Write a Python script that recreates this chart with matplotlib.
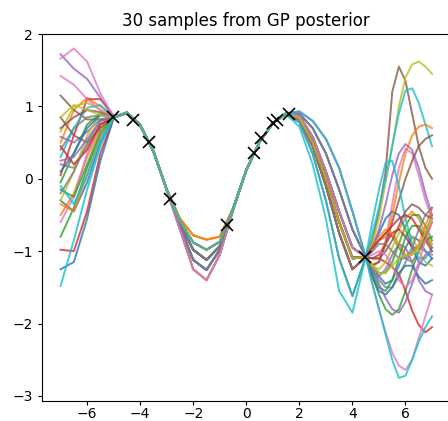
import matplotlib
matplotlib.use("Agg")
import matplotlib.pyplot as plt

title = "30 samples from GP posterior"

x_grid = [-7, -6.5, -6, -5.5, -5, -4.5, -4, -3.5, -3, -2.5, -2, -1.5, -1,
          -0.5, 0, 0.5, 1, 1.5, 2, 2.5, 3, 3.5, 4, 4.5,
          4.75, 5, 5.25, 5.5, 5.75, 6, 6.25, 6.5, 6.75, 7]

x_train = [-5.02, -4.27, -3.67, -2.86, -0.72, 0.29, 0.57, 1.01, 1.14, 1.61, 4.47]
y_train = [0.85, 0.81, 0.51, -0.28, -0.64, 0.36, 0.56, 0.77, 0.81, 0.90, -1.08]

c00 = [-1.25, -1.15, -0.55, 0.25, 0.84, 0.92, 0.75, 0.37, -0.16, -0.66, -1.12, -1.26, -0.98, -0.43, 0.12, 0.51, 0.77, 0.90, 0.85, 0.51, 0.01, -0.58, -1.08, -1.08, -1.2, -1.35, -1.45, -1.4, -1.2, -0.95, -0.8, -0.85, -1.0, -1.1]
c01 = [0.50, 0.95, 1.12, 1.00, 0.86, 0.90, 0.73, 0.38, -0.15, -0.58, -0.88, -0.98, -0.87, -0.41, 0.12, 0.51, 0.77, 0.90, 0.82, 0.45, -0.10, -0.75, -1.25, -1.08, -0.95, -0.85, -0.8, -0.75, -0.7, -0.55, -0.45, -0.55, -0.75, -0.9]
c02 = [-0.80, -0.40, 0.15, 0.60, 0.85, 0.91, 0.74, 0.38, -0.15, -0.62, -0.98, -1.12, -0.93, -0.42, 0.12, 0.51, 0.77, 0.90, 0.90, 0.70, 0.35, -0.15, -0.70, -1.08, -1.35, -1.6, -1.8, -1.88, -1.8, -1.55, -1.25, -1.0, -0.85, -0.8]
c03 = [0.05, 0.60, 1.10, 1.10, 0.87, 0.90, 0.73, 0.39, -0.14, -0.55, -0.78, -0.84, -0.80, -0.40, 0.13, 0.51, 0.77, 0.90, 0.87, 0.58, 0.10, -0.45, -0.95, -1.08, -1.1, -1.1, -1.15, -1.22, -1.32, -1.55, -1.82, -2.02, -2.12, -2.05]
c04 = [1.72, 1.52, 1.38, 1.12, 0.85, 0.92, 0.75, 0.38, -0.16, -0.70, -1.25, -1.40, -1.05, -0.44, 0.11, 0.51, 0.77, 0.91, 0.93, 0.80, 0.55, 0.15, -0.45, -1.08, -1.3, -1.35, -1.25, -1.05, -0.9, -0.95, -1.15, -1.4, -1.55, -1.6]
c05 = [1.15, 0.95, 0.82, 0.82, 0.85, 0.91, 0.74, 0.38, -0.15, -0.62, -0.98, -1.12, -0.93, -0.42, 0.12, 0.51, 0.77, 0.89, 0.78, 0.35, -0.30, -1.10, -1.62, -1.08, -0.85, -0.45, 0.1, 1.2, 1.55, 1.35, 0.9, 0.45, 0.15, 0.0]
c06 = [1.66, 1.80, 1.62, 1.18, 0.86, 0.91, 0.74, 0.37, -0.15, -0.66, -1.12, -1.26, -0.98, -0.43, 0.12, 0.51, 0.77, 0.90, 0.87, 0.58, 0.10, -0.45, -0.95, -1.08, -1.2, -1.15, -0.85, -0.35, 0.15, 0.42, 0.35, 0.05, -0.3, -0.55]
c07 = [0.40, 0.70, 0.85, 0.88, 0.85, 0.91, 0.74, 0.38, -0.15, -0.58, -0.88, -0.98, -0.87, -0.42, 0.12, 0.51, 0.77, 0.90, 0.84, 0.50, 0.00, -0.60, -1.10, -1.08, -1.0, -0.85, -0.75, -0.8, -0.95, -1.1, -1.15, -1.0, -0.75, -0.5]
c08 = [0.65, 1.00, 1.05, 0.95, 0.85, 0.90, 0.73, 0.39, -0.14, -0.55, -0.78, -0.84, -0.80, -0.41, 0.12, 0.51, 0.77, 0.90, 0.82, 0.45, -0.10, -0.75, -1.25, -1.08, -0.9, -0.55, -0.05, 0.45, 1.0, 1.4, 1.58, 1.62, 1.55, 1.45]
c09 = [0.30, 0.70, 0.98, 1.02, 0.85, 0.91, 0.74, 0.38, -0.15, -0.62, -0.98, -1.12, -0.93, -0.42, 0.12, 0.51, 0.77, 0.89, 0.72, 0.20, -0.55, -1.55, -1.85, -1.08, -0.75, -0.4, 0.0, 0.45, 0.9, 1.22, 1.25, 1.05, 0.75, 0.45]
c10 = [-0.30, -0.45, -0.05, 0.50, 0.85, 0.92, 0.75, 0.38, -0.15, -0.70, -1.25, -1.40, -1.05, -0.43, 0.12, 0.51, 0.77, 0.90, 0.82, 0.45, -0.10, -0.75, -1.25, -1.08, -0.95, -0.75, -0.55, -0.45, -0.5, -0.7, -0.95, -1.15, -1.2, -1.1]
c11 = [-0.50, -0.20, 0.30, 0.70, 0.85, 0.92, 0.75, 0.38, -0.16, -0.70, -1.25, -1.40, -1.05, -0.43, 0.12, 0.51, 0.77, 0.90, 0.87, 0.58, 0.10, -0.45, -0.95, -1.08, -1.18, -1.15, -0.9, -0.5, -0.05, 0.35, 0.6, 0.72, 0.75, 0.7]
c12 = [-0.05, 0.35, 0.75, 0.90, 0.85, 0.91, 0.74, 0.38, -0.15, -0.66, -1.12, -1.26, -0.98, -0.42, 0.12, 0.51, 0.77, 0.90, 0.84, 0.50, 0.00, -0.60, -1.10, -1.08, -1.2, -1.3, -1.3, -1.15, -0.9, -0.65, -0.5, -0.5, -0.65, -0.85]
c13 = [-0.98, -1.00, -0.45, 0.35, 0.84, 0.91, 0.74, 0.38, -0.15, -0.58, -0.88, -0.98, -0.87, -0.42, 0.12, 0.51, 0.77, 0.90, 0.87, 0.58, 0.10, -0.45, -0.95, -1.08, -1.1, -1.05, -0.9, -0.75, -0.7, -0.8, -0.95, -0.95, -0.8, -0.6]
c14 = [0.58, 0.50, 0.65, 0.82, 0.85, 0.91, 0.74, 0.38, -0.15, -0.62, -0.98, -1.12, -0.93, -0.42, 0.12, 0.51, 0.77, 0.90, 0.82, 0.45, -0.10, -0.75, -1.25, -1.08, -0.95, -0.7, -0.35, 0.05, 0.35, 0.48, 0.4, 0.15, -0.2, -0.5]
c15 = [0.85, 0.60, 0.50, 0.70, 0.85, 0.91, 0.74, 0.38, -0.15, -0.66, -1.12, -1.26, -0.98, -0.42, 0.12, 0.51, 0.77, 0.90, 0.84, 0.50, 0.00, -0.60, -1.10, -1.08, -1.2, -1.15, -0.9, -0.6, -0.3, 0.0, 0.25, 0.45, 0.55, 0.6]
c16 = [-0.60, -0.25, 0.35, 0.75, 0.85, 0.91, 0.74, 0.38, -0.15, -0.58, -0.88, -0.98, -0.87, -0.42, 0.12, 0.51, 0.77, 0.90, 0.93, 0.80, 0.55, 0.15, -0.45, -1.08, -1.45, -1.8, -2.12, -2.4, -2.58, -2.64, -2.5, -2.2, -1.9, -1.6]
c17 = [0.20, 0.15, 0.45, 0.75, 0.85, 0.91, 0.74, 0.38, -0.15, -0.62, -0.98, -1.12, -0.93, -0.42, 0.12, 0.51, 0.77, 0.90, 0.84, 0.50, 0.00, -0.60, -1.10, -1.08, -1.25, -1.4, -1.5, -1.5, -1.35, -1.15, -1.0, -0.95, -1.0, -1.05]
c18 = [-0.30, 0.10, 0.60, 0.90, 0.85, 0.91, 0.74, 0.38, -0.15, -0.58, -0.88, -0.98, -0.87, -0.42, 0.12, 0.51, 0.77, 0.90, 0.87, 0.58, 0.10, -0.45, -0.95, -1.08, -1.2, -1.25, -1.15, -0.95, -0.75, -0.7, -0.8, -1.0, -1.15, -1.2]
c19 = [-1.48, -0.85, -0.15, 0.45, 0.84, 0.91, 0.74, 0.38, -0.15, -0.66, -1.12, -1.26, -0.98, -0.42, 0.12, 0.51, 0.77, 0.89, 0.78, 0.35, -0.30, -1.10, -1.62, -1.08, -0.6, -0.15, 0.22, 0.25, -0.1, -0.55, -0.9, -1.1, -1.1, -0.95]
c20 = [0.10, 0.35, 0.70, 0.88, 0.85, 0.91, 0.74, 0.38, -0.15, -0.62, -0.98, -1.12, -0.93, -0.42, 0.12, 0.51, 0.77, 0.90, 0.87, 0.58, 0.10, -0.45, -0.95, -1.08, -1.35, -1.55, -1.6, -1.5, -1.3, -1.2, -1.2, -1.35, -1.45, -1.4]
c21 = [-0.35, -0.45, 0.05, 0.60, 0.85, 0.90, 0.73, 0.39, -0.14, -0.55, -0.78, -0.84, -0.80, -0.41, 0.12, 0.51, 0.77, 0.90, 0.84, 0.50, 0.00, -0.60, -1.10, -1.08, -0.95, -0.8, -0.7, -0.75, -0.9, -1.05, -1.05, -0.9, -0.65, -0.4]
c22 = [-0.15, -0.25, 0.20, 0.65, 0.85, 0.91, 0.74, 0.38, -0.15, -0.66, -1.12, -1.26, -0.98, -0.42, 0.12, 0.51, 0.77, 0.90, 0.90, 0.70, 0.35, -0.15, -0.70, -1.08, -1.3, -1.5, -1.55, -1.4, -1.1, -0.8, -0.65, -0.65, -0.8, -0.95]
c23 = [0.45, 0.20, 0.40, 0.75, 0.85, 0.91, 0.74, 0.38, -0.15, -0.58, -0.88, -0.98, -0.87, -0.42, 0.12, 0.51, 0.77, 0.90, 0.82, 0.45, -0.10, -0.75, -1.25, -1.08, -0.95, -0.85, -0.75, -0.65, -0.55, -0.5, -0.55, -0.7, -0.85, -1.0]
c24 = [0.25, 0.30, 0.55, 0.80, 0.85, 0.91, 0.74, 0.38, -0.15, -0.66, -1.12, -1.26, -0.98, -0.42, 0.12, 0.51, 0.77, 0.90, 0.90, 0.70, 0.35, -0.15, -0.70, -1.08, -1.25, -1.45, -1.65, -1.8, -1.85, -1.7, -1.45, -1.2, -1.05, -1.0]
c25 = [0.70, 0.85, 0.95, 0.92, 0.86, 0.91, 0.74, 0.38, -0.15, -0.62, -0.98, -1.12, -0.93, -0.42, 0.12, 0.51, 0.77, 0.90, 0.84, 0.50, 0.00, -0.60, -1.10, -1.08, -1.1, -1.1, -1.0, -0.85, -0.65, -0.45, -0.35, -0.4, -0.5, -0.55]
c26 = [1.42, 1.30, 1.10, 0.95, 0.85, 0.92, 0.75, 0.38, -0.16, -0.70, -1.25, -1.40, -1.05, -0.43, 0.12, 0.51, 0.77, 0.90, 0.87, 0.58, 0.10, -0.45, -0.95, -1.08, -1.05, -1.0, -1.05, -1.2, -1.4, -1.5, -1.4, -1.15, -0.85, -0.6]
c27 = [-0.20, 0.10, 0.50, 0.80, 0.85, 0.91, 0.74, 0.38, -0.15, -0.62, -0.98, -1.12, -0.93, -0.42, 0.12, 0.51, 0.77, 0.90, 0.82, 0.45, -0.10, -0.75, -1.25, -1.08, -1.0, -0.9, -0.9, -1.0, -1.1, -1.1, -0.95, -0.7, -0.5, -0.4]
c28 = [0.85, 1.02, 0.95, 0.88, 0.85, 0.91, 0.74, 0.38, -0.15, -0.58, -0.88, -0.98, -0.87, -0.42, 0.12, 0.51, 0.77, 0.90, 0.84, 0.50, 0.00, -0.60, -1.10, -1.08, -1.2, -1.3, -1.3, -1.2, -1.1, -1.05, -1.05, -0.95, -0.75, -0.55]
c29 = [-0.10, -0.35, 0.05, 0.55, 0.85, 0.91, 0.74, 0.38, -0.15, -0.58, -0.88, -0.98, -0.87, -0.42, 0.12, 0.51, 0.77, 0.90, 0.93, 0.80, 0.55, 0.15, -0.45, -1.08, -1.45, -1.8, -2.15, -2.5, -2.75, -2.72, -2.5, -2.25, -2.05, -1.9]

samples = [c00, c01, c02, c03, c04, c05, c06, c07, c08, c09,
           c10, c11, c12, c13, c14, c15, c16, c17, c18, c19,
           c20, c21, c22, c23, c24, c25, c26, c27, c28, c29]

fig = plt.figure(figsize=(4.48, 4.21), dpi=100)
ax = fig.add_axes([42 / 448, 1 - 400.7 / 421, 408.6 / 448, (400.7 - 34) / 421])

for i, ys in enumerate(samples):
    ax.plot(x_grid, ys, color=f"C{i % 10}", lw=1.4, alpha=0.8)

ax.plot(x_train, y_train, "kx", ms=8, mew=1.2, ls="none")

ax.set_xlim(-7.7, 7.7)
ax.set_ylim(-3.065, 2.0)
ax.set_xticks([-6, -4, -2, 0, 2, 4, 6])
ax.set_yticks([-3, -2, -1, 0, 1, 2])
ax.tick_params(axis="x", length=3, pad=1.5)
ax.tick_params(axis="y", length=3)
ax.set_title(title, fontsize=12)

fig.savefig("out.png", dpi=100)
